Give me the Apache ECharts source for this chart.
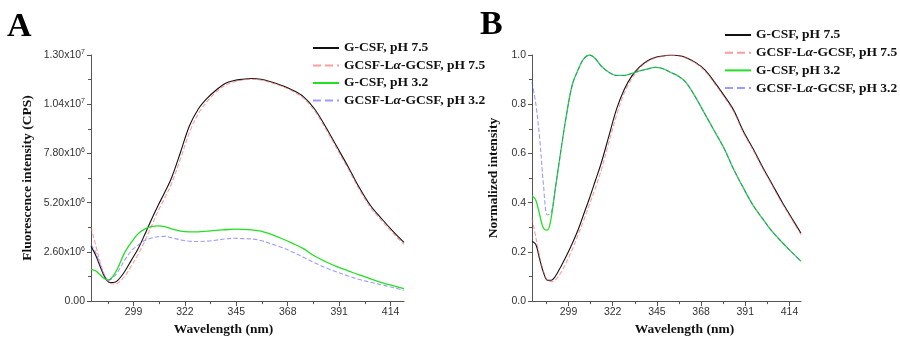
<!DOCTYPE html>
<html><head><meta charset="utf-8">
<script src="https://cdn.jsdelivr.net/npm/echarts@6/dist/echarts.min.js"></script>
<style>html,body{margin:0;padding:0;background:#fff}#c{width:900px;height:342px}</style>
</head><body><div id="c"></div>
<script>
var wavelengths = [280,282,284,286,288,290,292,295,298,301,304,307,310,313,316,320,324,328,332,336,340,344,348,352,356,360,365,370,375,380,385,390,395,400,405,410,415,420];

// Panel A: fluorescence intensity, in units of 1e6 CPS
var aGcsf75 = [2.89,2.45,1.85,1.3,1.0,0.98,1.1,1.55,2.15,2.75,3.5,4.3,5.05,5.75,6.5,7.85,9.25,10.15,10.72,11.15,11.5,11.65,11.72,11.76,11.72,11.6,11.4,11.15,10.8,10.15,9.2,8.15,7.1,6.0,5.05,4.35,3.7,3.1];
var aFus75   = [3.9,3.0,2.1,1.4,1.0,0.9,0.95,1.3,1.85,2.45,3.15,3.95,4.75,5.45,6.2,7.5,8.9,9.9,10.55,11.05,11.4,11.58,11.68,11.72,11.68,11.56,11.36,11.1,10.72,10.05,9.1,8.05,7.0,5.9,4.95,4.25,3.6,3.0];
var aGcsf32  = [1.68,1.6,1.4,1.18,1.12,1.35,1.75,2.55,3.1,3.55,3.8,3.93,3.97,3.93,3.82,3.7,3.66,3.66,3.7,3.74,3.77,3.8,3.79,3.76,3.7,3.55,3.32,3.06,2.77,2.38,2.08,1.82,1.6,1.38,1.18,0.98,0.82,0.66];
var aFus32   = [2.98,2.6,1.95,1.35,1.1,1.25,1.55,2.15,2.65,2.95,3.2,3.33,3.4,3.42,3.35,3.24,3.16,3.15,3.17,3.22,3.28,3.32,3.3,3.28,3.2,3.05,2.85,2.6,2.32,2.03,1.76,1.54,1.33,1.14,1.0,0.86,0.72,0.57];

// Panel B: normalized intensity
var bGcsf75 = [0.243,0.23,0.17,0.115,0.085,0.085,0.099,0.14,0.185,0.235,0.29,0.355,0.42,0.49,0.56,0.67,0.78,0.86,0.915,0.952,0.976,0.99,0.996,1.0,0.998,0.99,0.97,0.94,0.89,0.835,0.775,0.69,0.62,0.545,0.475,0.405,0.34,0.276];
var bFus75  = [0.336,0.26,0.18,0.12,0.085,0.079,0.085,0.115,0.16,0.21,0.27,0.33,0.395,0.46,0.53,0.645,0.755,0.845,0.905,0.947,0.973,0.988,0.995,0.999,0.997,0.988,0.967,0.935,0.885,0.83,0.77,0.685,0.615,0.54,0.47,0.4,0.335,0.27];
var bGcsf32 = [0.428,0.41,0.35,0.295,0.288,0.34,0.45,0.61,0.76,0.88,0.94,0.985,1.0,0.985,0.955,0.93,0.917,0.917,0.925,0.935,0.943,0.95,0.945,0.93,0.915,0.89,0.83,0.76,0.69,0.62,0.535,0.46,0.39,0.335,0.283,0.24,0.2,0.162];
var bFus32  = [0.89,0.8,0.66,0.47,0.35,0.36,0.45,0.61,0.76,0.88,0.94,0.985,1.0,0.985,0.955,0.93,0.917,0.917,0.925,0.935,0.943,0.95,0.945,0.93,0.915,0.89,0.83,0.76,0.69,0.62,0.535,0.46,0.39,0.335,0.283,0.24,0.2,0.162];

var seriesNames = ['G-CSF, pH 7.5','GCSF-L\u03b1-GCSF, pH 7.5','G-CSF, pH 3.2','GCSF-L\u03b1-GCSF, pH 3.2'];
var xMajorTicks = [299,322,345,368,391,414];
var xMinorTicks = [287.5,310.5,333.5,356.5,379.5,402.5];

function pairs(ys){ return wavelengths.map(function(x,i){ return [x, ys[i]]; }); }

var styles = [
  {color:'#111111', type:'solid', width:1.1, opacity:1},
  {color:'#ff5a5a', type:'dashed', width:1.1, opacity:0.6},
  {color:'#22e022', type:'solid', width:1.3, opacity:1},
  {color:'#4a4aff', type:'dashed', width:1.1, opacity:0.55}
];

var serif = '"Liberation Serif","Times New Roman",serif';
var sans = '"Liberation Sans",Arial,sans-serif';

function mkSeries(name, data, st, idx){
  return {
    name: name, type:'line', xAxisIndex: idx, yAxisIndex: idx,
    data: pairs(data), showSymbol:false, symbol:'none', smooth:0.35,
    color: st.color,
    lineStyle:{color:st.color, type:st.type, width:st.width, opacity:st.opacity},
    z: st.type==='solid'?3:4, animation:false
  };
}

var aData = [aGcsf75, aFus75, aGcsf32, aFus32];
var bData = [bGcsf75, bFus75, bGcsf32, bFus32];
var series = [];
for (var i=0;i<4;i++) series.push(mkSeries(seriesNames[i], aData[i], styles[i], 0));
for (var j=0;j<4;j++) series.push(mkSeries(seriesNames[j], bData[j], styles[j], 2));

function legendFmt(name){
  var p = name.split('\u03b1');
  if (p.length===2) return '{t|'+p[0]+'}{i|\u03b1}{t|'+p[1]+'}';
  return '{t|'+name+'}';
}
var legendRich = {
  t:{fontFamily:serif, fontWeight:'bold', fontSize:13.5, color:'#111'},
  i:{fontFamily:serif, fontWeight:'bold', fontStyle:'italic', fontSize:13.5, color:'#111'}
};

function xAxisMain(gi, padding){
  return {
    type:'value', gridIndex:gi, min:280, max:420,
    name:'Wavelength (nm)', nameLocation:'middle', nameGap:19,
    nameTextStyle:{fontFamily:serif, fontWeight:'bold', fontSize:13.5, color:'#111', padding:padding},
    axisLine:{show:true, lineStyle:{color:'#555', width:1}},
    axisTick:{show:true, length:5, customValues:xMajorTicks, lineStyle:{color:'#555'}},
    axisLabel:{customValues:xMajorTicks, fontFamily:sans, fontSize:10.5, color:'#333', margin:6},
    splitLine:{show:false}
  };
}
function xAxisMinor(gi){
  return {
    type:'value', gridIndex:gi, min:280, max:420, position:'bottom',
    axisLine:{show:false},
    axisTick:{show:true, length:3, customValues:xMinorTicks, lineStyle:{color:'#555'}},
    axisLabel:{show:false}, splitLine:{show:false}
  };
}

function mkLegend(left, top, gap){
  return {
    orient:'vertical', left:left, top:top, data:seriesNames,
    itemWidth:26, itemHeight:14, itemGap:gap,
    itemStyle:{opacity:0, borderWidth:0},
    formatter:legendFmt,
    textStyle:{rich:legendRich, lineHeight:14}
  };
}

var option = {
  animation:false,
  backgroundColor:'#fff',
  grid:[
    {left:91, top:55, right:496, bottom:35},
    {left:532, top:55, right:99, bottom:34}
  ],
  xAxis:[ xAxisMain(0,[0,48,0,0]), xAxisMinor(0), xAxisMain(1,[0,0,0,36]), xAxisMinor(1) ],
  yAxis:[
    {
      type:'value', gridIndex:0, min:0, max:13, interval:2.6,
      name:'Fluorescence intensity (CPS)', nameLocation:'middle', nameGap:56,
      nameTextStyle:{fontFamily:serif, fontWeight:'bold', fontSize:13.5, color:'#111'},
      axisLine:{show:true, lineStyle:{color:'#555'}},
      axisTick:{show:true, length:4, lineStyle:{color:'#555'}},
      minorTick:{show:true, splitNumber:2, length:3, lineStyle:{color:'#555'}},
      splitLine:{show:false},
      axisLabel:{
        fontFamily:sans, fontSize:10.5, color:'#333', margin:6,
        formatter:function(v){
          if (Math.abs(v)<1e-9) return '{m|0.00}';
          var real = v*1e6;
          var e = Math.floor(Math.log10(real)+1e-9);
          var m = real/Math.pow(10,e);
          return '{m|'+m.toFixed(2)+'x10}{s|'+e+'}';
        },
        rich:{
          m:{fontFamily:sans, fontSize:10.5, color:'#333'},
          s:{fontFamily:sans, fontSize:7, color:'#333', verticalAlign:'top', padding:[0,0,6,0]}
        }
      }
    },
    {show:false, gridIndex:0, min:0, max:13},
    {
      type:'value', gridIndex:1, min:0, max:1, interval:0.2,
      name:'Normalized intensity', nameLocation:'middle', nameGap:31,
      nameTextStyle:{fontFamily:serif, fontWeight:'bold', fontSize:13.5, color:'#111'},
      axisLine:{show:true, lineStyle:{color:'#555'}},
      axisTick:{show:true, length:4, lineStyle:{color:'#555'}},
      minorTick:{show:true, splitNumber:2, length:3, lineStyle:{color:'#555'}},
      splitLine:{show:false},
      axisLabel:{fontFamily:sans, fontSize:10.5, color:'#333', margin:6,
        formatter:function(v){ return v.toFixed(1); }}
    }
  ],
  legend:[ mkLegend(307, 36, 3.5), mkLegend(719, 23, 3.7) ],
  graphic:[
    {type:'text', left:7, top:10, style:{text:'A', font:'bold 34px '+serif, fill:'#000'}},
    {type:'text', left:480, top:8, style:{text:'B', font:'bold 34px '+serif, fill:'#000'}}
  ],
  series: series
};

var chart = echarts.init(document.getElementById('c'), null, {renderer:'canvas'});
chart.setOption(option);
</script>
</body></html>
